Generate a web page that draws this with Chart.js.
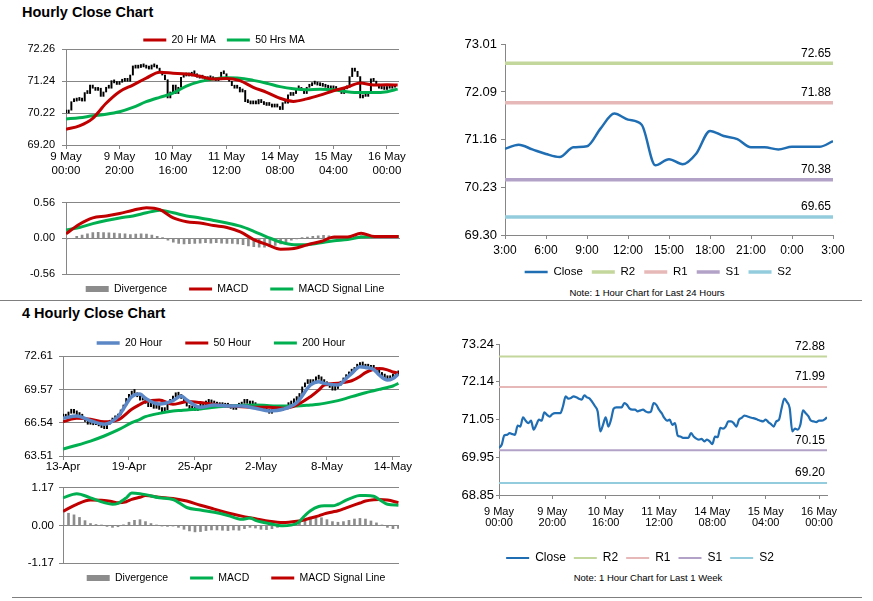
<!DOCTYPE html>
<html>
<head>
<meta charset="utf-8">
<script src="https://cdn.jsdelivr.net/npm/chart.js@4/dist/chart.umd.min.js"></script>
<style>
body { margin: 0; background: #fff; font-family: Arial, "Liberation Sans", sans-serif; color: #000; }
#page { position: relative; width: 873px; height: 601px; overflow: hidden; }
#page canvas { position: absolute; }
.heading { position: absolute; left: 22px; font-weight: bold; font-size: 14.5px; line-height: 16px; }
.note { position: absolute; width: 220px; text-align: center; font-size: 9.5px; line-height: 12px; }
.rule { position: absolute; height: 0; border-top: 1px solid #7f7f7f; }
</style>
</head>
<body>
<div id="page">
  <div class="heading" style="top:4px">Hourly Close Chart</div>
  <canvas id="hourlyPrice" width="420" height="158" style="left:0;top:22px"></canvas>
  <canvas id="hourlyMacd" width="420" height="107" style="left:0;top:189px"></canvas>
  <canvas id="dayChart" width="420" height="249" style="left:440px;top:33px"></canvas>
  <div class="note" style="left:537px;top:287px">Note: 1 Hour Chart for Last 24 Hours</div>

  <div class="rule" style="left:0;top:300px;width:862px"></div>

  <div class="heading" style="top:305px">4 Hourly Close Chart</div>
  <canvas id="fourHourPrice" width="420" height="143" style="left:0;top:331px"></canvas>
  <canvas id="fourHourMacd" width="420" height="112" style="left:0;top:476px"></canvas>
  <canvas id="weekChart" width="420" height="231" style="left:440px;top:334px"></canvas>
  <div class="note" style="left:538px;top:572px">Note: 1 Hour Chart for Last 1 Week</div>

  <div class="rule" style="left:12px;top:597px;width:850px"></div>
</div>

<script>
// ---- hourly data: 9 May 00:00 .. 16 May 03:00, one value per trading hour ----
const hourTicks = [0, 20, 40, 60, 80, 100, 120];
const hourLabels = [['9 May', '00:00'], ['9 May', '20:00'], ['10 May', '16:00'], ['11 May', '12:00'],
                    ['14 May', '08:00'], ['15 May', '04:00'], ['16 May', '00:00']];
const hourlyClose = [
  70.22, 70.31, 70.58, 70.60, 70.65, 70.62, 70.60, 70.87, 70.84, 71.11,
  71.01, 70.94, 71.01, 70.75, 70.89, 71.04, 71.01, 71.25, 71.18, 71.13,
  71.20, 71.23, 71.23, 71.23, 71.43, 71.72, 71.65, 71.67, 71.72, 71.69,
  71.65, 71.62, 71.75, 71.69, 71.65, 71.55, 71.43, 71.28, 70.70, 70.89,
  71.11, 70.84, 71.04, 71.36, 71.40, 71.40, 71.40, 71.52, 71.47, 71.36,
  71.33, 71.33, 71.28, 71.31, 71.33, 71.28, 71.25, 71.28, 71.52, 71.47,
  71.33, 71.23, 71.09, 71.01, 71.04, 70.89, 70.94, 70.58, 70.55, 70.51,
  70.51, 70.51, 70.65, 70.55, 70.49, 70.46, 70.48, 70.41, 70.46, 70.41,
  70.33, 70.55, 70.53, 70.80, 70.78, 70.84, 70.99, 70.99, 70.94, 70.84,
  71.04, 71.09, 71.16, 71.14, 71.11, 71.09, 71.07, 71.04, 71.01, 70.99,
  71.04, 70.97, 70.91, 70.84, 70.99, 71.04, 71.38, 71.65, 71.55, 71.38,
  70.70, 70.78, 70.75, 70.89, 71.31, 71.23, 71.14, 71.01, 70.99, 70.97,
  71.01, 71.01, 71.04, 71.11
];
// moving averages and MACD read every 5 hours
const hourlySampleHours = [0, 5, 10, 15, 20, 25, 30, 35, 40, 45, 50, 55, 60, 65, 70, 75, 80, 85, 90, 95, 100, 105, 110, 115, 120, 124];
const ma20Hr = [69.70, 69.81, 70.05, 70.53, 70.90, 71.11, 71.33, 71.52, 71.49, 71.46, 71.39, 71.30, 71.32,
                71.25, 71.04, 70.88, 70.69, 70.59, 70.67, 70.79, 70.93, 71.04, 71.18, 71.11, 71.12, 71.11];
const ma50Hr = [70.03, 70.07, 70.13, 70.18, 70.26, 70.40, 70.58, 70.72, 70.85, 71.08, 71.22, 71.30, 71.34,
                71.33, 71.26, 71.17, 71.06, 70.99, 70.96, 70.98, 70.96, 70.90, 70.87, 70.87, 70.90, 70.98];
const hourlyMacd = [0.07, 0.22, 0.32, 0.35, 0.39, 0.44, 0.48, 0.45, 0.32, 0.26, 0.24, 0.20, 0.17,
                    0.10, -0.02, -0.10, -0.17, -0.16, -0.10, -0.05, 0.02, 0.02, 0.08, 0.03, 0.03, 0.03];
const hourlySignal = [0.13, 0.17, 0.23, 0.28, 0.32, 0.35, 0.40, 0.44, 0.40, 0.35, 0.32, 0.28, 0.24,
                      0.19, 0.11, 0.02, -0.06, -0.10, -0.10, -0.07, -0.04, -0.02, 0.02, 0.03, 0.03, 0.03];
// divergence read every 2 hours
const hourlyDivergence = [
  -0.02, 0.00, 0.03, 0.05, 0.07, 0.09, 0.095, 0.09, 0.085, 0.08,
  0.075, 0.07, 0.06, 0.065, 0.07, 0.065, 0.05, 0.03, 0.01, -0.03,
  -0.06, -0.08, -0.09, -0.085, -0.08, -0.075, -0.07, -0.075, -0.07, -0.075,
  -0.08, -0.08, -0.09, -0.10, -0.12, -0.13, -0.14, -0.14, -0.13, -0.11,
  -0.09, -0.06, -0.03, -0.01, 0.01, 0.02, 0.03, 0.04, 0.045, 0.04,
  0.03, 0.03, 0.025, 0.03, 0.05, 0.04, 0.02, 0.01, 0.015, 0.02,
  0.01, 0.005, 0.00
];
const hourlyYTicks = [69.20, 70.22, 71.24, 72.26];
const hourlyMacdTicks = [-0.56, 0, 0.56];

// ---- last 24 hours ----
const dayTicks = [0, 3, 6, 9, 12, 15, 18, 21, 24];
const dayLabels = ['3:00', '6:00', '9:00', '12:00', '15:00', '18:00', '21:00', '0:00', '3:00'];
const dayClose = [70.98, 71.06, 70.97, 70.88, 70.82, 71.01, 71.03, 71.38, 71.67, 71.55, 71.45, 70.66, 70.78,
                  70.68, 70.89, 71.33, 71.23, 71.17, 71.01, 71.01, 70.97, 71.02, 71.02, 71.02, 71.13];
const dayYTicks = [69.30, 70.23, 71.16, 72.09, 73.01];
const levelNames = ['R2', 'R1', 'S1', 'S2'];
const dayLevels = [72.65, 71.88, 70.38, 69.65];

// ---- last week (hourly close, same hours as above) ----
const weekYTicks = [68.85, 69.95, 71.05, 72.14, 73.24];
const weekLevels = [72.88, 71.99, 70.15, 69.20];

// ---- 4 hourly data: 13 Apr .. 14 May, one value per 4h bar ----
const fourHourTicks = [0, 24, 48, 72, 96, 120];
const fourHourLabels = ['13-Apr', '19-Apr', '25-Apr', '2-May', '8-May', '14-May'];
const fourHourClose = [
  66.95, 67.15, 67.40, 67.55, 67.40, 67.25, 67.10, 66.95, 66.65, 66.40,
  66.55, 66.35, 66.40, 66.25, 66.10, 66.00, 66.40, 66.60, 66.80, 66.95,
  67.25, 67.70, 68.15, 68.75, 69.05, 69.35, 69.20, 68.90, 68.60, 68.65,
  68.30, 68.00, 68.05, 67.85, 67.95, 67.75, 67.55, 67.70, 68.30, 68.60,
  68.90, 69.05, 68.95, 68.75, 68.45, 68.05, 67.75, 67.70, 67.65, 67.85,
  68.00, 68.15, 68.30, 68.55, 68.25, 68.15, 68.05, 68.00, 68.15, 67.95,
  68.05, 67.85, 67.75, 67.95, 68.05, 68.30, 68.35, 68.30, 68.15, 68.25,
  68.00, 67.75, 67.65, 67.70, 67.55, 67.40, 67.55, 67.65, 67.70, 67.65,
  67.75, 68.00, 68.15, 68.35, 68.55, 68.60, 69.20, 69.80, 70.10, 70.30,
  70.10, 70.35, 70.50, 70.55, 70.35, 70.10, 69.90, 69.75, 69.50, 69.65,
  69.95, 70.25, 70.55, 70.80, 71.05, 71.20, 71.50, 71.65, 71.80, 71.70,
  71.50, 71.60, 71.40, 71.50, 71.20, 71.00, 70.75, 70.60, 70.45, 70.60,
  70.75, 70.90, 71.00
];
const fourHourSampleBars = [0, 5, 10, 15, 20, 25, 28, 30, 35, 40, 43, 45, 50, 55, 60, 65, 70, 75, 80, 85,
                            90, 93, 95, 100, 103, 105, 108, 110, 113, 115, 118, 120, 122];
const ma20Hour = [66.94, 67.15, 66.72, 66.40, 67.10, 68.91, 69.15, 68.76, 68.24, 68.55, 68.97, 68.61, 67.94,
                  68.15, 68.06, 68.06, 67.85, 67.61, 67.76, 68.37, 69.97, 70.27, 70.12, 69.97, 70.57, 71.03,
                  71.64, 71.57, 71.39, 70.88, 70.42, 70.57, 70.97];
const ma50Hour = [66.63, 66.94, 66.85, 66.62, 66.79, 67.76, 68.20, 68.46, 68.61, 68.21, 68.35, 68.46, 68.37,
                  68.21, 68.06, 68.00, 67.94, 67.94, 67.85, 68.15, 68.91, 69.50, 69.97, 70.12, 70.25, 70.36,
                  70.75, 71.10, 71.40, 71.48, 71.35, 71.15, 71.05];
const ma200Hour = [64.15, 64.49, 64.87, 65.33, 65.88, 66.54, 66.85, 67.09, 67.39, 67.60, 67.66, 67.70, 67.79,
                   67.94, 68.06, 68.12, 68.15, 68.09, 68.06, 68.06, 68.15, 68.22, 68.30, 68.55, 68.75, 68.91,
                   69.13, 69.27, 69.45, 69.57, 69.75, 69.88, 70.12];
const fourHourMacdBars = [0, 5, 10, 15, 18, 20, 23, 25, 28, 30, 35, 40, 45, 50, 55, 60, 65, 68, 70, 75, 80,
                          85, 88, 90, 93, 95, 98, 100, 103, 105, 108, 110, 113, 115, 118, 122];
const fourHourMacd = [0.86, 0.99, 0.86, 0.71, 0.66, 0.69, 0.86, 1.01, 0.99, 0.96, 0.86, 0.81, 0.56, 0.48,
                      0.41, 0.31, 0.19, 0.23, 0.16, 0.06, -0.01, 0.06, 0.31, 0.46, 0.59, 0.61, 0.61, 0.66,
                      0.79, 0.86, 0.93, 0.93, 0.91, 0.81, 0.66, 0.63];
const fourHourSignal = [0.44, 0.66, 0.79, 0.78, 0.74, 0.71, 0.74, 0.81, 0.88, 0.93, 0.88, 0.84, 0.76, 0.63,
                        0.51, 0.39, 0.29, 0.24, 0.21, 0.13, 0.09, 0.13, 0.18, 0.23, 0.30, 0.36, 0.42, 0.46,
                        0.55, 0.61, 0.70, 0.76, 0.80, 0.81, 0.79, 0.71];
// divergence read every 2 bars
const fourHourDivergence = [
  0.42, 0.38, 0.33, 0.25, 0.15, 0.06, 0.03, 0.01, -0.03, -0.06,
  -0.04, 0.02, 0.10, 0.16, 0.18, 0.12, 0.06, 0.01, -0.02, -0.03,
  -0.02, -0.06, -0.12, -0.17, -0.20, -0.19, -0.16, -0.14, -0.14, -0.15,
  -0.16, -0.14, -0.15, -0.10, -0.06, -0.08, -0.12, -0.13, -0.10, -0.06,
  -0.03, 0.02, 0.08, 0.15, 0.20, 0.25, 0.28, 0.24, 0.18, 0.12,
  0.10, 0.12, 0.16, 0.20, 0.22, 0.20, 0.14, 0.08, 0.01, -0.06,
  -0.10, -0.09
];
const fourHourYTicks = [63.51, 66.54, 69.57, 72.61];
const fourHourMacdTicks = [-1.17, 0, 1.17];

// ---- styles ----
const RED = '#c00000';
const GREEN = '#00b050';
const STEEL = '#5b87c6';
const CLOSE_BLUE = '#1f6db3';
const DIV_GRAY = '#8c8c8c';
const AXIS = '#868686';
const levelColors = ['#c3d69b', '#e6b9b8', '#b3a2c7', '#93cddd'];

Chart.defaults.font.family = 'Arial, "Liberation Sans", sans-serif';
Chart.defaults.color = '#000';

function points(xs, ys) {
  return xs.map((x, i) => ({ x: x, y: ys[i] }));
}

function line(label, data, color, width, order) {
  return { type: 'line', label: label, data: data, borderColor: color, backgroundColor: color,
           borderWidth: width, pointRadius: 0, pointStyle: 'line', cubicInterpolationMode: 'monotone',
           order: order };
}

function levelLine(i, levels, xMax, width) {
  return { type: 'line', label: levelNames[i], level: true,
           data: [{ x: 0, y: levels[i] }, { x: xMax, y: levels[i] }],
           borderColor: levelColors[i], backgroundColor: levelColors[i], borderWidth: width,
           pointRadius: 0, pointStyle: 'line', order: 2 };
}

function xAxis(max, ticks, labels, height, font, pad, show) {
  return {
    type: 'linear', min: 0, max: max, offset: false, display: show,
    afterBuildTicks: s => { s.ticks = ticks.map(v => ({ value: v })); },
    afterFit: s => { s.height = height; },
    ticks: { autoSkip: false, maxRotation: 0, padding: pad, font: font, callback: (v, i) => labels[i] },
    grid: { offset: false, drawOnChartArea: false, tickLength: 4, color: AXIS },
    border: { color: AXIS }
  };
}

function yAxis(ticks, width, size, pad, gridLines, tickLen) {
  return {
    min: ticks[0], max: ticks[ticks.length - 1],
    afterBuildTicks: s => { s.ticks = ticks.map(v => ({ value: v })); },
    afterFit: s => { s.width = width; },
    ticks: { padding: pad, font: { size: size }, callback: v => v.toFixed(2) },
    grid: { drawOnChartArea: gridLines, tickLength: tickLen, color: AXIS },
    border: { color: AXIS }
  };
}

function legend(position, size, padding) {
  return {
    position: position,
    labels: { usePointStyle: true, pointStyleWidth: 23, boxHeight: 6, padding: padding, font: { size: size },
              filter: item => item.text !== '', sort: (a, b) => a.datasetIndex - b.datasetIndex }
  };
}

function options(padding, legendOpts, x, y) {
  return { responsive: false, animation: false, events: [], layout: { padding: padding },
           plugins: { legend: legendOpts, tooltip: { enabled: false } }, scales: { x: x, y: y } };
}

// reserve a fixed height for the legend, then move it so its row is centred on (cx, cy)
function placeLegend(reserve, cx, cy, size) {
  return {
    id: 'placeLegend',
    beforeInit(chart) {
      const fit = chart.legend.fit;
      chart.legend.fit = function () { fit.call(this); this.height = reserve; };
    },
    afterLayout(chart) {
      const lg = chart.legend;
      const pad = lg.options.labels.padding;
      const dx = cx - (lg.left + lg.right) / 2;
      lg.left += dx;
      lg.right += dx;
      lg.top = cy - pad - size / 2;
      lg.bottom = lg.top + pad + size + 8;
      lg.height = lg.bottom - lg.top;
    }
  };
}

// value labels over the support / resistance lines
const levelLabels = {
  id: 'levelLabels',
  afterDatasetsDraw(chart) {
    const { ctx, chartArea, scales } = chart;
    ctx.save();
    ctx.font = '12px Arial, "Liberation Sans", sans-serif';
    ctx.fillStyle = '#000';
    ctx.textAlign = 'right';
    ctx.textBaseline = 'bottom';
    chart.data.datasets.forEach(ds => {
      if (!ds.level) return;
      const v = ds.data[0].y;
      ctx.fillText(v.toFixed(2), chartArea.right - 2, scales.y.getPixelForValue(v) - 4);
    });
    ctx.restore();
  }
};

// Hourly close chart with 20 / 50 hour moving averages
new Chart(document.getElementById('hourlyPrice'), {
  type: 'bar',
  data: {
    datasets: [
      line('20 Hr MA', points(hourlySampleHours, ma20Hr), RED, 3, 1),
      line('50 Hrs MA', points(hourlySampleHours, ma50Hr), GREEN, 3, 2),
      { label: '', data: hourlyClose.map((c, i) => ({ x: i, y: [hourlyClose[Math.max(i - 1, 0)], c] })),
        backgroundColor: '#000', barThickness: 1.3, minBarLength: 3, order: 3 }
    ]
  },
  options: options({ top: 0, right: 21, bottom: 0, left: 0 }, legend('top', 10.5, 11),
    xAxis(124.5, hourTicks, hourLabels, 35, { size: 11.5, lineHeight: 1.22 }, 1, true),
    yAxis(hourlyYTicks, 66, 11, 7, true, 4)),
  plugins: [placeLegend(27, 224, 18, 10.5)]
});

// Hourly MACD
new Chart(document.getElementById('hourlyMacd'), {
  type: 'bar',
  data: {
    datasets: [
      { label: 'Divergence', data: hourlyDivergence.map((v, i) => ({ x: i * 2, y: v })),
        backgroundColor: DIV_GRAY, barThickness: 2, pointStyle: 'rect', order: 3 },
      line('MACD', points(hourlySampleHours, hourlyMacd), RED, 3, 1),
      line('MACD Signal Line', points(hourlySampleHours, hourlySignal), GREEN, 3, 2)
    ]
  },
  options: options({ top: 8, right: 20, bottom: 0, left: 0 }, legend('bottom', 10.5, 22),
    xAxis(124.5, hourTicks, hourLabels, 0, { size: 11 }, 0, false),
    yAxis(hourlyMacdTicks, 66, 11, 7, true, 4)),
  plugins: [placeLegend(22, 235, 100, 10.5)]
});

// Last 24 hours with pivot levels
new Chart(document.getElementById('dayChart'), {
  type: 'line',
  data: {
    datasets: [line('Close', dayClose.map((v, i) => ({ x: i, y: v })), CLOSE_BLUE, 2.5, 1)]
      .concat(levelNames.map((n, i) => levelLine(i, dayLevels, 24, 3.5)))
  },
  options: options({ top: 10, right: 27, bottom: 0, left: 0 }, legend('bottom', 11.5, 9),
    xAxis(24, dayTicks, dayLabels, 22, { size: 12 }, 4, true),
    yAxis(dayYTicks, 65, 13, 4, false, 4)),
  plugins: [placeLegend(25, 218, 239, 11.5), levelLabels]
});

// 4 hourly close chart with 20 / 50 / 200 moving averages
new Chart(document.getElementById('fourHourPrice'), {
  type: 'bar',
  data: {
    datasets: [
      line('20 Hour', points(fourHourSampleBars, ma20Hour), STEEL, 3.5, 1),
      line('50 Hour', points(fourHourSampleBars, ma50Hour), RED, 3, 2),
      line('200 Hour', points(fourHourSampleBars, ma200Hour), GREEN, 3, 2),
      { label: '', data: fourHourClose.map((c, i) => ({ x: i, y: [fourHourClose[Math.max(i - 1, 0)], c] })),
        backgroundColor: '#000', barThickness: 1.3, minBarLength: 4, order: 3 }
    ]
  },
  options: options({ top: 0, right: 21, bottom: 0, left: 0 }, legend('top', 10.5, 23),
    xAxis(122.2, fourHourTicks, fourHourLabels, 18, { size: 11.5 }, 0, true),
    yAxis(fourHourYTicks, 63, 11.5, 6, true, 4)),
  plugins: [placeLegend(25, 221, 12, 10.5)]
});

// 4 hourly MACD
new Chart(document.getElementById('fourHourMacd'), {
  type: 'bar',
  data: {
    datasets: [
      { label: 'Divergence', data: fourHourDivergence.map((v, i) => ({ x: i * 2, y: v })),
        backgroundColor: DIV_GRAY, barThickness: 2, pointStyle: 'rect', order: 3 },
      line('MACD', points(fourHourMacdBars, fourHourMacd), GREEN, 3, 1),
      line('MACD Signal Line', points(fourHourMacdBars, fourHourSignal), RED, 3, 2)
    ]
  },
  options: options({ top: 8, right: 21, bottom: 0, left: 0 }, legend('bottom', 10.5, 22),
    xAxis(122.2, fourHourTicks, fourHourLabels, 0, { size: 11 }, 0, false),
    yAxis(fourHourMacdTicks, 63, 11.5, 5, true, 4)),
  plugins: [placeLegend(25, 236, 102, 10.5)]
});

// Last week hourly close with pivot levels
new Chart(document.getElementById('weekChart'), {
  type: 'line',
  data: {
    datasets: [line('Close', hourlyClose.map((v, i) => ({ x: i, y: v })), CLOSE_BLUE, 2.2, 1)]
      .concat(levelNames.map((n, i) => levelLine(i, weekLevels, 123, 2)))
  },
  options: options({ top: 10, right: 33, bottom: 0, left: 0 }, legend('bottom', 12, 8),
    xAxis(123, hourTicks, hourLabels, 40, { size: 11, lineHeight: 1.05 }, 7, true),
    yAxis(weekYTicks, 59, 13, 2, false, 3)),
  plugins: [placeLegend(30, 200, 224, 12), levelLabels]
});
</script>
</body>
</html>
